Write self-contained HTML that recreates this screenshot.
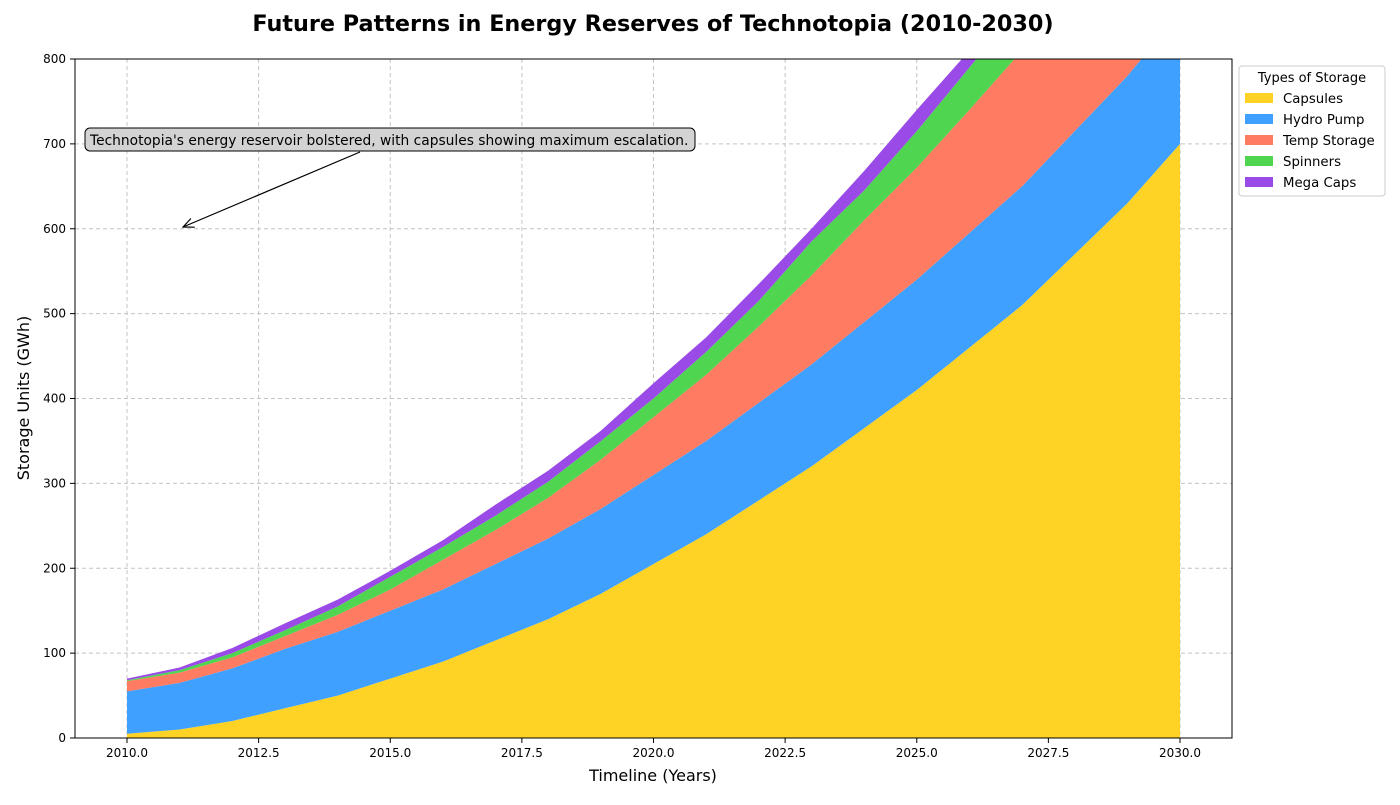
<!DOCTYPE html>
<html><head><meta charset="utf-8"><style>
body{margin:0;background:#fff;font-family:"Liberation Sans","DejaVu Sans",sans-serif;}
svg text{font-family:"DejaVu Sans","Liberation Sans",sans-serif;}
</style></head><body>
<svg id="chart" width="1400" height="800">
<defs><clipPath id="clip"><rect x="75" y="59" width="1157" height="679"/></clipPath>
<marker id="arr" markerWidth="10" markerHeight="10" refX="9" refY="5" orient="auto"><path d="M0,1 L9,5 L0,9" fill="none" stroke="#000"/></marker></defs>
<text x="653" y="31" text-anchor="middle" font-size="22.3" font-weight="bold">Future Patterns in Energy Reserves of Technotopia (2010-2030)</text>
<g id="grid"></g>
<g id="areas" clip-path="url(#clip)"></g>
<rect x="75" y="59" width="1157" height="679" fill="none" stroke="#000" stroke-width="1"/>
<g id="axes"></g>
<text x="653" y="781" text-anchor="middle" font-size="16">Timeline (Years)</text>
<text transform="translate(29,398) rotate(-90)" text-anchor="middle" font-size="16">Storage Units (GWh)</text>
<g>
<line x1="360" y1="152" x2="183" y2="227" stroke="#000" stroke-width="1.2" marker-end="url(#arr)"/>
<rect x="85" y="128" width="610" height="23" rx="5" fill="#d3d3d3" stroke="#000"/>
<text x="90" y="145" font-size="13.8">Technotopia's energy reservoir bolstered, with capsules showing maximum escalation.</text>
</g>
<g id="legend">
<rect x="1239" y="66" width="146" height="130" rx="3" fill="#fff" stroke="#ccc"/>
<text x="1312" y="82" text-anchor="middle" font-size="13">Types of Storage</text>
</g>
</svg>
<script>
const years=[2010,2011,2012,2013,2014,2015,2016,2017,2018,2019,2020,2021,2022,2023,2024,2025,2026,2027,2028,2029,2030];
const capsules=[5,10,20,35,50,70,90,115,140,170,205,240,280,320,365,410,460,510,570,630,700];
const hydro=[50,55,62,70,75,80,85,90,95,100,105,110,115,120,125,130,135,140,145,150,155];
const tempStorage=[12,12,13,15,20,25,35,40,48,58,68,78,90,105,120,132,145,160,175,190,205];
const spinners=[1,3,5,7,10,15,15,17,19,22,22,27,30,40,35,43,50,55,60,65,70];
const megaCaps=[2,3,6,8,8,7,8,13,13,12,18,17,20,15,23,25,20,22,25,28,30];
const seriesNames=["Capsules","Hydro Pump","Temp Storage","Spinners","Mega Caps"];
const colors=["#fed325","#3fa0ff","#ff7b62","#4fd550","#9a4ae6"];
const xTicks=[2010,2012.5,2015,2017.5,2020,2022.5,2025,2027.5,2030];
const yTicks=[0,100,200,300,400,500,600,700,800];
const NS="http://www.w3.org/2000/svg";
const xs=v=>127+(v-2010)*(1180-127)/20;
const ys=v=>738-v*679/800;
function mk(t,a,p){const e=document.createElementNS(NS,t);for(const k in a)e.setAttribute(k,a[k]);p.appendChild(e);return e;}
const grid=document.getElementById('grid'),axes=document.getElementById('axes');
xTicks.forEach(t=>{
 const g=mk('line',{x1:xs(t),x2:xs(t),y1:59,y2:738,stroke:'#c4c4c4','stroke-dasharray':'4,3'},grid);
 
 
 mk('line',{x1:xs(t),x2:xs(t),y1:738,y2:743,stroke:'#000'},axes);
 const l=mk('text',{x:xs(t),y:757,'text-anchor':'middle','font-size':12},axes);l.textContent=t.toFixed(1);
 
 
});
yTicks.forEach(t=>{
 const g=mk('line',{x1:75,x2:1232,y1:ys(t),y2:ys(t),stroke:'#c4c4c4','stroke-dasharray':'4,3'},grid);
 
 
 mk('line',{x1:70,x2:75,y1:ys(t),y2:ys(t),stroke:'#000'},axes);
 const l=mk('text',{x:66,y:ys(t)+4,'text-anchor':'end','font-size':12},axes);l.textContent=t;
 
 
});
const all=[capsules,hydro,tempStorage,spinners,megaCaps];
let base=years.map(()=>0);
const areas=document.getElementById('areas');
all.forEach((s,i)=>{
 const top=base.map((b,j)=>b+s[j]);
 let d='M'+years.map((y,j)=>xs(y)+','+ys(top[j])).join(' L');
 for(let j=years.length-1;j>=0;j--)d+=' L'+xs(years[j])+','+ys(base[j]);
 const p=mk('path',{d:d+'Z',fill:colors[i]},areas);
 
 
 base=top;
});
const lg=document.getElementById('legend');
seriesNames.forEach((n,i)=>{
 const y=98+i*21;
 const r=mk('rect',{x:1245,y:y-5,width:28,height:10,fill:colors[i]},lg);
 
 
 const t=mk('text',{x:1283,y:y+5,'font-size':13.3},lg);t.textContent=n;
 
 
});
</script>
</body></html>
